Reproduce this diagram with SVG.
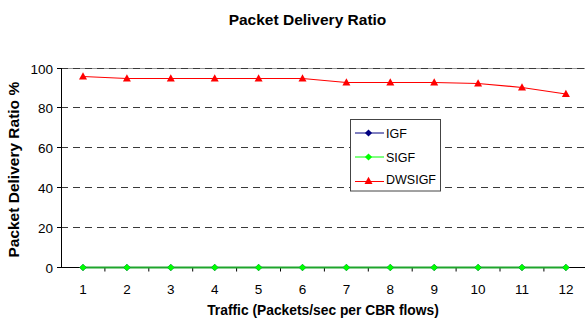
<svg xmlns="http://www.w3.org/2000/svg" xmlns:xlink="http://www.w3.org/1999/xlink" width="585" height="322" viewBox="0 0 585 322">
<style>
text{font-family:"Liberation Sans",Arial,sans-serif;fill:#000}
.title{font-size:15.5px;font-weight:bold}
.axt{font-size:13.8px;font-weight:bold}
.tick{font-size:13.5px}
.leg{font-size:12.5px}
.grid{stroke:#3a3a3a;stroke-width:1;stroke-dasharray:7,5;fill:none}
.axis{stroke:#000;stroke-width:1;fill:none}
.red{stroke:#ff0000;stroke-width:1.2;fill:none}
</style>
<defs>
<path id="tri" d="M0,-4.2 L4,3 L-4,3 Z" fill="#ff0000"/>
<path id="dmG" d="M0,-3.6 L3.6,0 L0,3.6 L-3.6,0 Z" fill="#00ff00"/>
<path id="dmB" d="M0,-3.6 L3.6,0 L0,3.6 L-3.6,0 Z" fill="#000080"/>
</defs>
<rect width="585" height="322" fill="#fff"/>
<g id="title"><text class="title" x="307.5" y="24.5" text-anchor="middle">Packet Delivery Ratio</text></g>
<g id="plot-area">
<line x1="61" y1="68.5" x2="585" y2="68.5" stroke="#999" stroke-width="1"/>
<g id="gridlines">
<line class="grid" x1="61" y1="68.5" x2="585" y2="68.5"/>
<line class="grid" x1="61" y1="107.5" x2="585" y2="107.5"/>
<line class="grid" x1="61" y1="147.5" x2="585" y2="147.5"/>
<line class="grid" x1="61" y1="187.5" x2="585" y2="187.5"/>
<line class="grid" x1="61" y1="227.5" x2="585" y2="227.5"/>
</g>
</g>
<g id="y-axis">
<line class="axis" x1="61.5" y1="68" x2="61.5" y2="267.5"/>
<path class="axis" d="M57,68.5H61.5M57,107.5H61.5M57,147.5H61.5M57,187.5H61.5M57,227.5H61.5M57,267.5H61.5"/>
<g class="tick" text-anchor="end">
<text class="tick" x="53" y="73.5">100</text>
<text class="tick" x="53" y="112.5">80</text>
<text class="tick" x="53" y="152.5">60</text>
<text class="tick" x="53" y="192.5">40</text>
<text class="tick" x="53" y="232.5">20</text>
<text class="tick" x="53" y="272.5">0</text>
</g>
<text class="axt" style="font-size:15.5px" transform="translate(18.5,169.7) rotate(-90)" text-anchor="middle">Packet Delivery Ratio %</text>
</g>
<g id="x-axis">
<line class="axis" x1="61" y1="267.5" x2="585" y2="267.5"/>
<path class="axis" d="M104.9,267.5V271.5M148.8,267.5V271.5M192.7,267.5V271.5M236.6,267.5V271.5M280.5,267.5V271.5M324.4,267.5V271.5M368.3,267.5V271.5M412.2,267.5V271.5M456.1,267.5V271.5M500,267.5V271.5M543.9,267.5V271.5"/>
<g text-anchor="middle">
<text class="tick" x="83" y="293.5">1</text>
<text class="tick" x="126.9" y="293.5">2</text>
<text class="tick" x="170.8" y="293.5">3</text>
<text class="tick" x="214.7" y="293.5">4</text>
<text class="tick" x="258.6" y="293.5">5</text>
<text class="tick" x="302.5" y="293.5">6</text>
<text class="tick" x="346.4" y="293.5">7</text>
<text class="tick" x="390.3" y="293.5">8</text>
<text class="tick" x="434.2" y="293.5">9</text>
<text class="tick" x="478.1" y="293.5">10</text>
<text class="tick" x="522" y="293.5">11</text>
<text class="tick" x="565.9" y="293.5">12</text>
</g>
<text class="axt" x="323" y="314.8" text-anchor="middle">Traffic (Packets/sec per CBR flows)</text>
</g>
<g id="connectors">
<g id="series-IGF">
<polyline points="83,267.5 565.9,267.5" stroke="#000080" stroke-width="1" fill="none"/>
</g>
<g id="series-SIGF">
<polyline points="83,267.5 565.9,267.5" stroke="#1fa52c" stroke-width="2" fill="none"/>
</g>
<g id="series-DWSIGF">
<polyline class="red" points="83,76.5 126.9,78.5 170.8,78.5 214.7,78.5 258.6,78.5 302.5,78.5 346.4,82.5 390.3,82.5 434.2,82.5 478.1,83.5 522,87.5 565.9,94"/>
</g>
</g>
<g id="markers-IGF">
<use xlink:href="#dmB" x="83" y="267.5"/><use xlink:href="#dmB" x="126.9" y="267.5"/><use xlink:href="#dmB" x="170.8" y="267.5"/><use xlink:href="#dmB" x="214.7" y="267.5"/><use xlink:href="#dmB" x="258.6" y="267.5"/><use xlink:href="#dmB" x="302.5" y="267.5"/><use xlink:href="#dmB" x="346.4" y="267.5"/><use xlink:href="#dmB" x="390.3" y="267.5"/><use xlink:href="#dmB" x="434.2" y="267.5"/><use xlink:href="#dmB" x="478.1" y="267.5"/><use xlink:href="#dmB" x="522" y="267.5"/><use xlink:href="#dmB" x="565.9" y="267.5"/>
</g>
<g id="markers-SIGF">
<use xlink:href="#dmG" x="83" y="267.5"/><use xlink:href="#dmG" x="126.9" y="267.5"/><use xlink:href="#dmG" x="170.8" y="267.5"/><use xlink:href="#dmG" x="214.7" y="267.5"/><use xlink:href="#dmG" x="258.6" y="267.5"/><use xlink:href="#dmG" x="302.5" y="267.5"/><use xlink:href="#dmG" x="346.4" y="267.5"/><use xlink:href="#dmG" x="390.3" y="267.5"/><use xlink:href="#dmG" x="434.2" y="267.5"/><use xlink:href="#dmG" x="478.1" y="267.5"/><use xlink:href="#dmG" x="522" y="267.5"/><use xlink:href="#dmG" x="565.9" y="267.5"/>
</g>
<g id="markers-DWSIGF">
<use xlink:href="#tri" x="83" y="76.5"/><use xlink:href="#tri" x="126.9" y="78.5"/><use xlink:href="#tri" x="170.8" y="78.5"/><use xlink:href="#tri" x="214.7" y="78.5"/><use xlink:href="#tri" x="258.6" y="78.5"/><use xlink:href="#tri" x="302.5" y="78.5"/><use xlink:href="#tri" x="346.4" y="82.5"/><use xlink:href="#tri" x="390.3" y="82.5"/><use xlink:href="#tri" x="434.2" y="82.5"/><use xlink:href="#tri" x="478.1" y="83.5"/><use xlink:href="#tri" x="522" y="87.5"/><use xlink:href="#tri" x="565.9" y="94"/>
</g>
<g id="legend">
<rect x="350.5" y="119.5" width="90" height="71.5" fill="#fff" stroke="#444" stroke-width="1"/>
<line x1="355" y1="133" x2="384" y2="133" stroke="#000080" stroke-width="1"/>
<use xlink:href="#dmB" x="368.5" y="133"/>
<text class="leg" x="386" y="137.5">IGF</text>
<line x1="355" y1="157" x2="384" y2="157" stroke="#00ff00" stroke-width="1"/>
<use xlink:href="#dmG" x="368.5" y="157"/>
<text class="leg" x="386" y="161.5">SIGF</text>
<line x1="355" y1="181.5" x2="384" y2="181.5" stroke="#ff0000" stroke-width="1"/>
<use xlink:href="#tri" x="368.5" y="181"/>
<text class="leg" x="386" y="183.5">DWSIGF</text>
</g>
</svg>
